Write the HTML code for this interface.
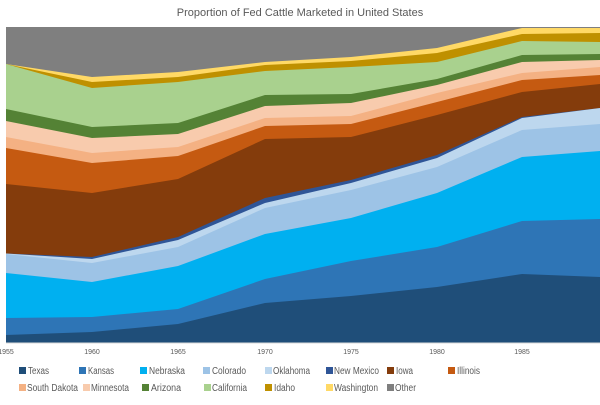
<!DOCTYPE html>
<html><head><meta charset="utf-8"><style>
body{margin:0;background:#fff;width:600px;height:400px;overflow:hidden;font-family:"Liberation Sans",sans-serif}
</style></head><body>
<svg width="600" height="400" xmlns="http://www.w3.org/2000/svg" font-family="Liberation Sans, sans-serif">
<rect width="600" height="400" fill="#fff"/>
<text x="300" y="16" font-size="11" fill="#595959" text-anchor="middle">Proportion of Fed Cattle Marketed in United States</text>
<rect x="6" y="27" width="594" height="316" fill="#7f7f7f"/>
<polygon fill="#ffd966" points="6,64 92,77 178,72 265,62 351,57 437,48 522,28 600,28 600,343 6,343"/>
<polygon fill="#bf9000" points="6,64 92,82 178,77 265,65 351,61 437,53 522,34 600,33 600,343 6,343"/>
<polygon fill="#a9d18e" points="6,64 92,88 178,82 265,71 351,67 437,62 522,41 600,42 600,343 6,343"/>
<polygon fill="#548235" points="6,109 92,127 178,123 265,95 351,94 437,79 522,55 600,54 600,343 6,343"/>
<polygon fill="#f8cbad" points="6,121 92,138 178,134 265,106 351,103 437,85 522,62 600,60 600,343 6,343"/>
<polygon fill="#f4b183" points="6,137 92,153 178,147 265,118 351,116 437,93 522,73 600,67 600,343 6,343"/>
<polygon fill="#c55a11" points="6,148 92,163 178,156 265,126 351,124 437,102 522,80 600,75 600,343 6,343"/>
<polygon fill="#843c0c" points="6,184 92,193 178,179 265,139 351,137 437,115 522,92 600,84 600,343 6,343"/>
<polygon fill="#2f5597" points="6,253.5 92,257 178,237 265,198 351,180 437,155 522,117 600,108 600,343 6,343"/>
<polygon fill="#bdd7ee" points="6,253.5 92,259 178,240 265,203 351,183 437,158 522,118 600,108 600,343 6,343"/>
<polygon fill="#9dc3e6" points="6,254 92,263 178,247 265,208 351,190 437,167 522,130 600,124 600,343 6,343"/>
<polygon fill="#00b0f0" points="6,273 92,282 178,266 265,234 351,218 437,193 522,157 600,151 600,343 6,343"/>
<polygon fill="#2e75b6" points="6,318 92,317 178,309 265,279 351,261 437,247 522,221 600,219 600,343 6,343"/>
<polygon fill="#1f4e79" points="6,335 92,332 178,324 265,303 351,296 437,287 522,274 600,277 600,343 6,343"/>
<line x1="6" y1="343" x2="600" y2="343" stroke="#d9d9d9"/>
<g font-size="7" fill="#595959" text-anchor="middle">
<text x="6" y="354">1955</text><text x="92" y="354">1960</text><text x="178" y="354">1965</text><text x="265" y="354">1970</text><text x="351" y="354">1975</text><text x="437" y="354">1980</text><text x="522" y="354">1985</text>
</g>
<g font-size="10" fill="#595959" lengthAdjust="spacingAndGlyphs">
<rect x="19" y="367" width="7" height="7" fill="#1f4e79"/><text x="28" y="374" textLength="21" lengthAdjust="spacingAndGlyphs">Texas</text>
<rect x="79" y="367" width="7" height="7" fill="#2e75b6"/><text x="88" y="374" textLength="26" lengthAdjust="spacingAndGlyphs">Kansas</text>
<rect x="140" y="367" width="7" height="7" fill="#00b0f0"/><text x="149" y="374" textLength="36" lengthAdjust="spacingAndGlyphs">Nebraska</text>
<rect x="203" y="367" width="7" height="7" fill="#9dc3e6"/><text x="212" y="374" textLength="34" lengthAdjust="spacingAndGlyphs">Colorado</text>
<rect x="265" y="367" width="7" height="7" fill="#bdd7ee"/><text x="273" y="374" textLength="37" lengthAdjust="spacingAndGlyphs">Oklahoma</text>
<rect x="326" y="367" width="7" height="7" fill="#2f5597"/><text x="334" y="374" textLength="45" lengthAdjust="spacingAndGlyphs">New Mexico</text>
<rect x="387" y="367" width="7" height="7" fill="#843c0c"/><text x="396" y="374" textLength="17" lengthAdjust="spacingAndGlyphs">Iowa</text>
<rect x="448" y="367" width="7" height="7" fill="#c55a11"/><text x="457" y="374" textLength="23" lengthAdjust="spacingAndGlyphs">Illinois</text>
<rect x="19" y="384" width="7" height="7" fill="#f4b183"/><text x="27" y="391" textLength="51" lengthAdjust="spacingAndGlyphs">South Dakota</text>
<rect x="83" y="384" width="7" height="7" fill="#f8cbad"/><text x="91" y="391" textLength="38" lengthAdjust="spacingAndGlyphs">Minnesota</text>
<rect x="142" y="384" width="7" height="7" fill="#548235"/><text x="151" y="391" textLength="30" lengthAdjust="spacingAndGlyphs">Arizona</text>
<rect x="204" y="384" width="7" height="7" fill="#a9d18e"/><text x="212" y="391" textLength="35" lengthAdjust="spacingAndGlyphs">California</text>
<rect x="265" y="384" width="7" height="7" fill="#bf9000"/><text x="274" y="391" textLength="21" lengthAdjust="spacingAndGlyphs">Idaho</text>
<rect x="326" y="384" width="7" height="7" fill="#ffd966"/><text x="334" y="391" textLength="44" lengthAdjust="spacingAndGlyphs">Washington</text>
<rect x="387" y="384" width="7" height="7" fill="#7f7f7f"/><text x="395" y="391" textLength="21" lengthAdjust="spacingAndGlyphs">Other</text>
</g>
</svg>
</body></html>
